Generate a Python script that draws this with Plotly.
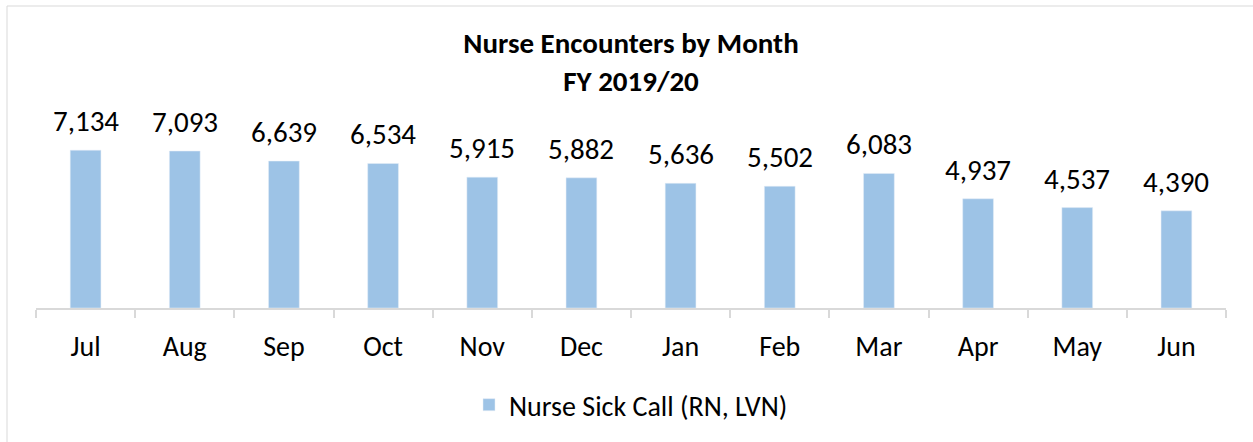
import plotly.graph_objects as go

# FY 2019/20 nurse sick call encounters by month
months = ["Jul", "Aug", "Sep", "Oct", "Nov", "Dec", "Jan", "Feb", "Mar", "Apr", "May", "Jun"]
encounters = [7134, 7093, 6639, 6534, 5915, 5882, 5636, 5502, 6083, 4937, 4537, 4390]
series_name = "Nurse Sick Call (RN, LVN)"

FONT = "Calibri, Carlito, Lato, sans-serif"
BAR = "#9DC3E6"
GRID = "#D9D9D9"

W, H = 1253, 442
L, R, T, B = 36, 27, 131, 134
pw, ph = W - L - R, H - T - B
AXIS_Y = 308  # pixel row of the x axis

fig = go.Figure()
fig.add_trace(go.Bar(x=months, y=encounters, name=series_name, marker_color=BAR))

# data labels above bars
for m, v in zip(months, encounters):
    fig.add_annotation(x=m, y=v, text=f"{v:,}", showarrow=False, yanchor="middle",
                       yshift=29, font=dict(family=FONT, size=29, color="#000000"))

# chart border (Excel chart area)
fig.add_shape(type="rect", xref="paper", yref="paper",
              x0=(7 - L) / pw, x1=(1262 - L) / pw,
              y0=(AXIS_Y - 450) / ph, y1=(AXIS_Y - 6) / ph,
              line=dict(color=GRID, width=1), layer="below")

fig.update_layout(
    width=W, height=H,
    margin=dict(l=L, r=R, t=T, b=B),
    paper_bgcolor="white", plot_bgcolor="white",
    title=dict(text="<b>Nurse Encounters by Month<br>FY 2019/20</b>",
               x=631 / W, xanchor="center", yref="container", y=1 - 53 / H, yanchor="middle",
               font=dict(family=FONT, size=29, color="#000000")),
    bargap=0.69,
    showlegend=True,
    legend=dict(orientation="h", x=0.5, xanchor="center", y=(AXIS_Y - 405) / ph, yanchor="middle",
                font=dict(family=FONT, size=28, color="#000000")),
    font=dict(family=FONT, color="#000000"),
)
fig.update_xaxes(showline=True, linecolor=GRID, linewidth=2, ticks="outside", tickson="boundaries",
                 ticklen=8, tickcolor=GRID, tickwidth=2, ticklabelstandoff=12,
                 tickfont=dict(family=FONT, size=28, color="#000000"), showgrid=False)
fig.update_yaxes(range=[0, 8000], visible=False, showgrid=False)

# drop the default page margin so the figure sits at the window origin
fig.write_html("out.html", config={"displayModeBar": False},
               post_script="document.body.style.margin='0';")
